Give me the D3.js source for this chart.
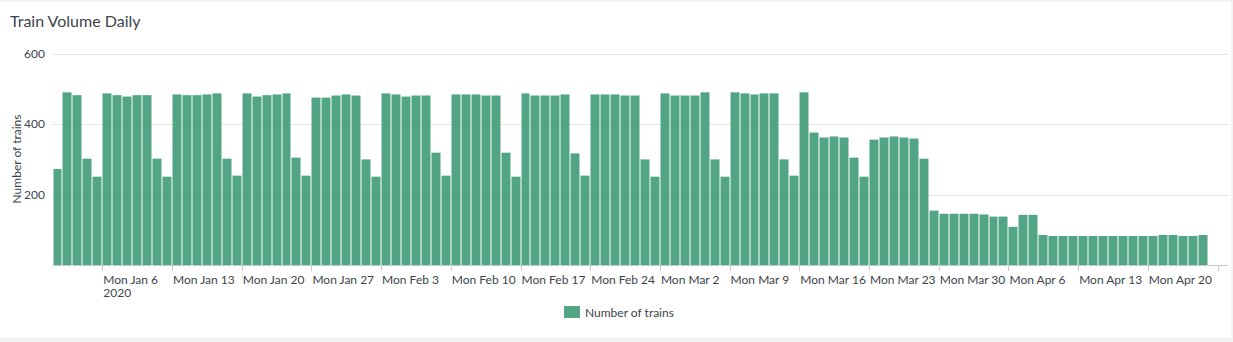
<!DOCTYPE html>
<html>
<head>
<meta charset="utf-8">
<script src="https://cdn.jsdelivr.net/npm/d3@7/dist/d3.min.js"></script>
<style>
  html, body { margin: 0; padding: 0; background: #f2f3f5; }
  svg { display: block; }
  text { font-family: Lato, "Noto Sans", sans-serif; }
</style>
</head>
<body>
<svg id="chart" width="1233" height="342"></svg>
<script>
// ---- data ----
const startDate = "2020-01-01";
const values = [
  // Jan
  273, 490, 482, 302, 251, 487, 482, 478, 482, 482, 302, 251, 484, 482, 482, 484,
  487, 302, 254, 487, 478, 482, 484, 487, 305, 254, 475, 475, 481, 484, 481,
  // Feb
  300, 251, 487, 484, 478, 481, 481, 319, 254, 484, 484, 484, 481, 481, 319, 251,
  487, 481, 481, 481, 484, 317, 254, 484, 484, 484, 481, 481, 300,
  // Mar
  251, 487, 481, 481, 481, 490, 300, 251, 490, 487, 484, 487, 487, 300, 254, 490,
  376, 362, 365, 362, 305, 251, 356, 362, 365, 362, 359, 302, 155, 146, 146,
  // Apr
  146, 146, 144, 138, 138, 109, 143, 143, 86, 83, 83, 83, 83, 83, 83, 83,
  83, 83, 83, 83, 86, 86, 83, 83, 86
];
const domainStart = "2020-01-01";
const domainEnd = "2020-04-28";
const yTicks = [200, 400, 600];
const seriesName = "Number of trains";
const title = "Train Volume Daily";

const parse = d3.timeParse("%Y-%m-%d");
const t0 = parse(startDate);
const data = values.map((v, i) => ({ date: d3.timeDay.offset(t0, i), value: v }));

// ---- layout ----
const svg = d3.select("#chart");
svg.append("rect").attr("x", 0).attr("y", 2).attr("width", 1231).attr("height", 336).attr("fill", "#ffffff");

const x = d3.scaleTime().domain([parse(domainStart), parse(domainEnd)]).range([52.5, 1227.5]);
const y = d3.scaleLinear().domain([0, 600]).range([265.3, 53.5]);

svg.append("text").attr("x", 10).attr("y", 27)
  .attr("font-size", 16).attr("fill", "#3c444d").text(title);

// gridlines
svg.append("g").selectAll("line").data(yTicks).join("line")
  .attr("x1", 52.5).attr("x2", 1228)
  .attr("y1", d => Math.round(y(d)) + 0.5).attr("y2", d => Math.round(y(d)) + 0.5)
  .attr("stroke", "#e1e6eb").attr("stroke-width", 1);

// y labels
svg.append("g").selectAll("text").data(yTicks).join("text")
  .attr("x", 45).attr("y", d => y(d)).attr("dy", "0.35em")
  .attr("text-anchor", "end").attr("font-size", 12).attr("fill", "#3c444d")
  .text(d => d);

svg.append("text")
  .attr("transform", "translate(21,159) rotate(-90)")
  .attr("text-anchor", "middle").attr("font-size", 12).attr("fill", "#3c444d")
  .text(seriesName);

// bars
svg.append("g").selectAll("rect").data(data).join("rect")
  .attr("x", d => Math.round(x(d.date)) + 0.5)
  .attr("width", d => Math.round(x(d3.timeDay.offset(d.date, 1))) - Math.round(x(d.date)) - 1)
  .attr("y", d => y(d.value))
  .attr("height", d => y(0) - y(d.value))
  .attr("fill", "#52a584");

// x axis
const xTicks = d3.timeMonday.range(parse("2020-01-06"), parse(domainEnd));
const ax = svg.append("g");
ax.append("line").attr("x1", 52.5).attr("x2", 1228)
  .attr("y1", 265.5).attr("y2", 265.5).attr("stroke", "#c3cbd4");
ax.selectAll("line.tick").data(xTicks).join("line").attr("class", "tick")
  .attr("x1", d => Math.round(x(d)) + 0.5).attr("x2", d => Math.round(x(d)) + 0.5)
  .attr("y1", 265.5).attr("y2", 271).attr("stroke", "#c3cbd4");
const fmt = d3.timeFormat("%a %b %-d");
ax.selectAll("text.lbl").data(xTicks.filter(d => x(d) < 1200)).join("text").attr("class", "lbl")
  .attr("x", d => x(d) + 1).attr("y", 284)
  .attr("font-size", 12).attr("fill", "#3c444d")
  .text(d => fmt(d));
ax.append("text").attr("x", x(xTicks[0]) + 1).attr("y", 297)
  .attr("font-size", 12).attr("fill", "#3c444d").text("2020");

// legend
svg.append("rect").attr("x", 564).attr("y", 306).attr("width", 16).attr("height", 12).attr("fill", "#52a584");
svg.append("text").attr("x", 585).attr("y", 313).attr("dy", "0.35em")
  .attr("font-size", 12).attr("fill", "#3c444d").text(seriesName);
</script>
</body>
</html>
